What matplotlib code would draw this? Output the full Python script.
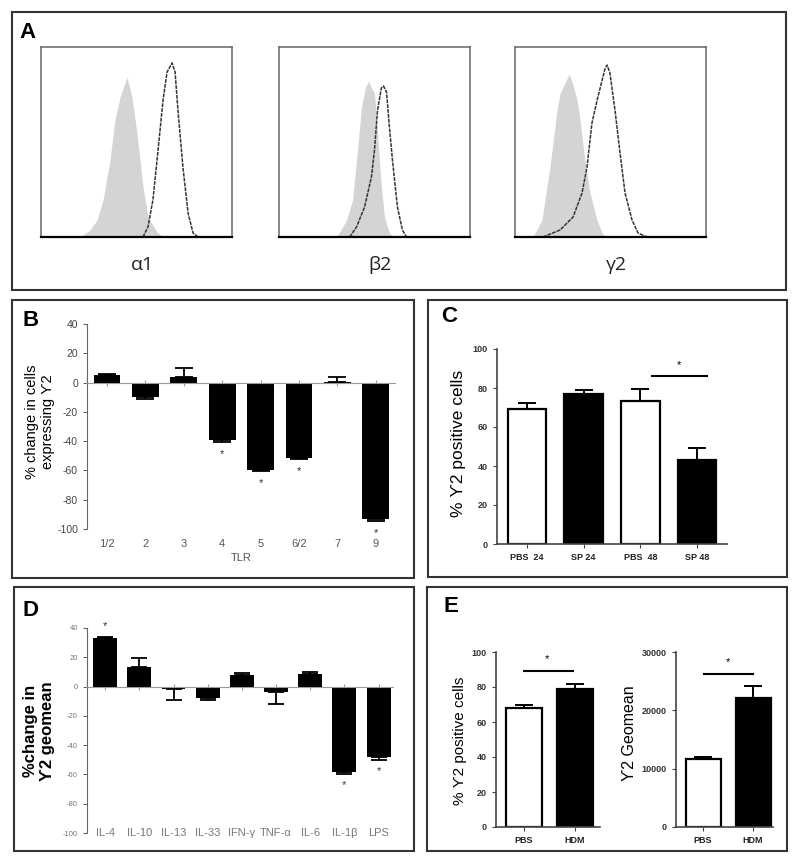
import numpy as np
import matplotlib
matplotlib.use("Agg")
import matplotlib.pyplot as plt
from matplotlib.patches import Rectangle

plt.rcParams['font.family'] = ['Liberation Sans', 'DejaVu Sans']
plt.rcParams['axes.unicode_minus'] = False

W, H = 800, 864

# --- Panel A: flow histograms (x, y in % of each box)
hist_labels = ['α1', 'β2', 'γ2']
iso_x = [[20.4, 25.7, 29.3, 32.5, 36.1, 38.7, 41.4, 45.0, 47.6, 50.3, 53.4, 56.0, 60.7, 63.9],
         [30.2, 35.4, 38.5, 41.1, 43.2, 45.3, 46.9, 48.4, 50.0, 51.6, 53.6, 55.2, 57.8, 60.4],
         [9.4, 14.1, 18.3, 22.0, 23.6, 26.2, 28.3, 30.4, 32.5, 34.0, 36.6, 39.3, 42.9, 45.5, 47.1]]
iso_y = [[0, 3.7, 8.9, 19.5, 40.5, 61.6, 73.7, 84.2, 73.7, 54.2, 26.3, 10.5, 2.6, 0],
         [0, 8.9, 19.5, 45.8, 68.4, 78.9, 82.1, 78.4, 75.8, 54.7, 26.3, 10.5, 2.1, 0],
         [0, 8.9, 36.8, 66.8, 75.8, 81.1, 85.8, 80.0, 72.1, 61.6, 40.5, 23.2, 8.9, 2.6, 0]]
stain_x = [[53.4, 56.0, 58.6, 61.3, 63.9, 66.0, 67.5, 68.6, 70.2, 71.7, 74.3, 77.0, 79.6, 82.2],
           [37.0, 40.6, 44.8, 48.4, 50.0, 51.6, 53.6, 54.7, 56.3, 57.8, 59.4, 62.0, 64.6, 66.7],
           [14.7, 23.6, 30.4, 35.1, 37.7, 40.3, 42.9, 45.5, 47.1, 48.2, 49.7, 52.4, 55.0, 57.6, 61.3, 64.4, 69.1]]
stain_y = [[0, 5.3, 19.5, 45.8, 72.1, 86.8, 89.5, 91.6, 86.8, 66.8, 36.8, 12.6, 2.1, 0],
           [0, 5.3, 15.8, 31.6, 45.8, 66.8, 78.4, 79.5, 76.3, 57.9, 40.5, 15.8, 3.7, 0],
           [0, 3.7, 10.5, 23.2, 36.8, 60.0, 71.6, 82.1, 88.4, 90.5, 86.3, 66.3, 44.2, 23.2, 8.9, 2.1, 0]]

# --- Panel B: TLR ligands
tlr_labels = ['1/2', '2', '3', '4', '5', '6/2', '7', '9']
tlr_change = [5.5, -10, 4, -39.5, -60, -51.5, 0.5, -93.5]
tlr_err = [0.5, 1, 6, 1, 0.5, 1, 3.5, 1]
tlr_sig = [False, False, False, True, True, True, False, True]

# --- Panel C: SP vs PBS
sp_labels = ['PBS  24', 'SP 24', 'PBS  48', 'SP 48']
sp_pos = [69, 77, 73.5, 43]
sp_err = [3.5, 2, 6, 6]
sp_fill = ['white', 'black', 'white', 'black']

# --- Panel D: cytokines
cyto_labels = ['IL-4', 'IL-10', 'IL-13', 'IL-33', 'IFN-γ', 'TNF-α', 'IL-6', 'IL-1β', 'LPS']
cyto_change = [33.5, 13.5, -1.5, -8, 8, -4, 8.5, -58, -48]
cyto_err = [0.5, 6, 7.5, 1, 1.5, 8, 1.5, 2, 2]
cyto_sig = [True, False, False, False, False, False, False, True, True]

# --- Panel E: HDM
hdm_labels = ['PBS', 'HDM']
hdm_pos = [68, 79]
hdm_pos_err = [2, 3]
hdm_geo = [11600, 22200]
hdm_geo_err = [400, 1900]

fig = plt.figure(figsize=(W / 100, H / 100), dpi=100)


def px_axes(x0, y0, x1, y1):
    return fig.add_axes([x0 / W, 1 - y1 / H, (x1 - x0) / W, (y1 - y0) / H])


def box(x0, y0, x1, y1):
    fig.add_artist(Rectangle((x0 / W, 1 - y1 / H), (x1 - x0) / W, (y1 - y0) / H,
                             transform=fig.transFigure, fill=False, ec='#333333', lw=1.5))


def letter(x, y, s):
    fig.text(x / W, 1 - y / H, s, fontsize=16, fontweight='bold', ha='center', va='center')


def signed_bars(ax, vals, errs, capsize):
    x = np.arange(len(vals))
    lo = [e if v < 0 else 0 for v, e in zip(vals, errs)]
    hi = [e if v >= 0 else 0 for v, e in zip(vals, errs)]
    ax.bar(x, vals, width=0.7, color='black', zorder=2)
    ax.errorbar(x, vals, yerr=[lo, hi], fmt='none', ecolor='black', elinewidth=1.3,
                capsize=capsize, capthick=1.3, zorder=3)
    return x


def style_change_axes(ax, n, xlim, tick_fs):
    ax.set_ylim(-100, 40)
    ax.set_xlim(*xlim)
    ax.set_yticks(np.arange(-100, 41, 20))
    ax.spines['top'].set_visible(False)
    ax.spines['right'].set_visible(False)
    ax.spines['bottom'].set_position(('data', 0))
    ax.spines['bottom'].set_color('#999999')
    ax.spines['left'].set_color('#666666')
    ax.set_xticks(np.arange(n))
    ax.tick_params(axis='x', direction='inout', length=4, color='#999999', labelbottom=False)
    ax.tick_params(axis='y', length=3, color='#666666', labelsize=tick_fs, labelcolor='#444444')
    ax.patch.set_alpha(0)


def bar_axes(ax, ymax, yticks, xlim, labels):
    ax.set_ylim(0, ymax)
    ax.set_xlim(*xlim)
    ax.set_yticks(yticks)
    ax.set_xticks(np.arange(len(labels)))
    ax.set_xticklabels(labels, fontsize=6.5, fontweight='bold', color='#222222')
    for s in ['top', 'right']:
        ax.spines[s].set_visible(False)
    for s in ['left', 'bottom']:
        ax.spines[s].set_color('#444444')
        ax.spines[s].set_linewidth(1.2)
    ax.tick_params(length=3, color='#444444', labelsize=6.5)
    for t in ax.get_yticklabels():
        t.set_fontweight('bold')
        t.set_color('#333333')


# ---------------- Panel A
box(12, 12, 786, 290)
letter(27, 32, 'A')
hist_x0 = [41, 279, 515]
for i in range(3):
    ax = px_axes(hist_x0[i], 47, hist_x0[i] + 191, 237)
    ax.fill_between(iso_x[i], iso_y[i], color='#d4d4d4', lw=0)
    ax.plot(stain_x[i], stain_y[i], color='#333333', lw=1.1, ls=(0, (2.5, 0.7)))
    ax.set_xlim(0, 100)
    ax.set_ylim(0, 100)
    ax.set_xticks([])
    ax.set_yticks([])
    for s in ax.spines.values():
        s.set_color('#666666')
        s.set_linewidth(1.1)
    ax.spines['bottom'].set_color('black')
    ax.spines['bottom'].set_linewidth(1.6)
    fig.text((hist_x0[i] + 101) / W, 1 - 265 / H, hist_labels[i], fontsize=14,
             family=['Open Sans', 'DejaVu Sans'], ha='center', va='center', color='#222222')

# ---------------- Panel B
box(12, 300, 414, 578)
letter(31, 320, 'B')
axb = px_axes(87, 324, 395, 529)
xb = signed_bars(axb, tlr_change, tlr_err, 6.5)
style_change_axes(axb, len(tlr_labels), (-0.52, 7.5), 7.5)
for i, lab in enumerate(tlr_labels):
    axb.text(xb[i], -110, lab, ha='center', va='center', fontsize=8, color='#555555')
    if tlr_sig[i]:
        axb.text(xb[i], tlr_change[i] - tlr_err[i] - 8, '*', ha='center', va='center',
                 fontsize=8, color='#333333')
axb.text(3.5, -120, 'TLR', ha='center', va='center', fontsize=8, color='#555555')
fig.text(40 / W, 1 - 422 / H, '% change in cells\nexpressing ϒ2', rotation=90,
         ha='center', va='center', multialignment='center', fontsize=10.5, linespacing=1.1)

# ---------------- Panel C
box(428, 300, 787, 577)
letter(449, 317, 'C')
axc = px_axes(497, 349, 727, 544)
xc = np.arange(len(sp_pos))
axc.bar(xc, sp_pos, width=0.68, color=sp_fill, edgecolor='black', lw=1.6, zorder=2)
axc.errorbar(xc, sp_pos, yerr=[[0] * len(sp_err), sp_err], fmt='none', ecolor='black',
             elinewidth=1.4, capsize=6.5, capthick=1.4, zorder=1)
bar_axes(axc, 100, [0, 20, 40, 60, 80, 100], (-0.53, 3.53), sp_labels)
axc.plot([2.2, 3.17], [86.3, 86.3], color='black', lw=1.5, clip_on=False)
axc.text(2.68, 92, '*', ha='center', va='center', fontsize=8)
fig.text(458 / W, 1 - 443 / H, '% ϒ2 positive cells', rotation=90, ha='center',
         va='center', fontsize=12.5)

# ---------------- Panel D
box(14, 587, 414, 851)
letter(31, 610, 'D')
axd = px_axes(87, 628, 393, 833)
xd = signed_bars(axd, cyto_change, cyto_err, 5.5)
style_change_axes(axd, len(cyto_labels), (-0.53, 8.42), 5.5)
for t in axd.get_yticklabels():
    t.set_color('#777777')
for i, lab in enumerate(cyto_labels):
    axd.text(xd[i], -100, lab, ha='center', va='center', fontsize=8, color='#777777')
    if cyto_sig[i]:
        v = cyto_change[i]
        yy = v + cyto_err[i] + 7.5 if v > 0 else v - cyto_err[i] - 7.5
        axd.text(xd[i], yy, '*', ha='center', va='center', fontsize=8, color='#333333')
fig.text(39 / W, 1 - 731 / H, '%change in\nϒ2 geomean', rotation=90, ha='center',
         va='center', multialignment='center', fontsize=12, fontweight='bold', linespacing=1.1)

# ---------------- Panel E
box(427, 587, 787, 851)
letter(451, 606, 'E')
hdm_fill = ['white', 'black']
xe = np.arange(len(hdm_labels))

axe1 = px_axes(496, 652, 600, 827)
axe1.bar(xe, hdm_pos, width=0.7, color=hdm_fill, edgecolor='black', lw=1.6, zorder=2)
axe1.errorbar(xe, hdm_pos, yerr=[[0, 0], hdm_pos_err], fmt='none', ecolor='black',
              elinewidth=1.4, capsize=6.5, capthick=1.4, zorder=1)
bar_axes(axe1, 100, [0, 20, 40, 60, 80, 100], (-0.55, 1.49), hdm_labels)
axe1.plot([0, 0.96], [89.3, 89.3], color='black', lw=1.5, clip_on=False)
axe1.text(0.45, 96, '*', ha='center', va='center', fontsize=8)
fig.text(460 / W, 1 - 741 / H, '% ϒ2 positive cells', rotation=90, ha='center',
         va='center', fontsize=11)

axe2 = px_axes(676, 652, 773, 827)
axe2.bar(xe, hdm_geo, width=0.7, color=hdm_fill, edgecolor='black', lw=1.6, zorder=2)
axe2.errorbar(xe, hdm_geo, yerr=[[0, 0], hdm_geo_err], fmt='none', ecolor='black',
              elinewidth=1.4, capsize=6.5, capthick=1.4, zorder=1)
bar_axes(axe2, 30000, [0, 10000, 20000, 30000], (-0.54, 1.4), hdm_labels)
axe2.plot([0.02, 1.0], [26200, 26200], color='black', lw=1.5, clip_on=False)
axe2.text(0.5, 28300, '*', ha='center', va='center', fontsize=8)
fig.text(630 / W, 1 - 733 / H, 'ϒ2 Geomean', rotation=90, ha='center',
         va='center', fontsize=11.5)

fig.savefig('out.png', dpi=100)
